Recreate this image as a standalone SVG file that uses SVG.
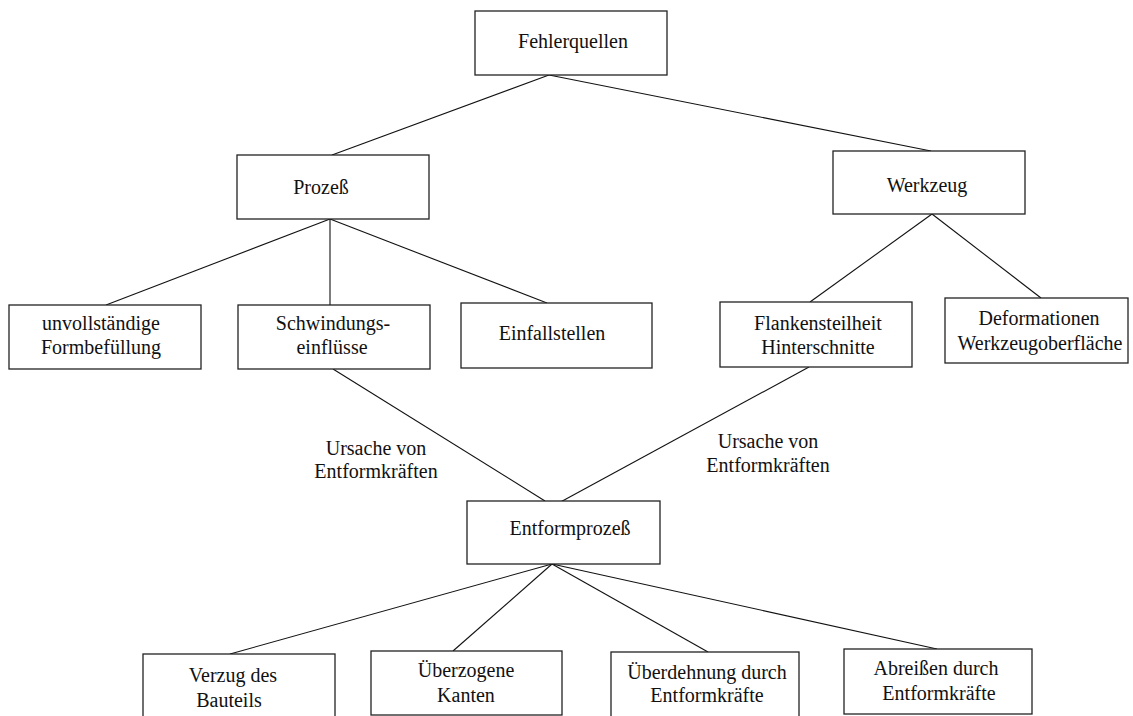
<svg xmlns="http://www.w3.org/2000/svg" width="1133" height="716" viewBox="0 0 1133 716">
<style>
.box{fill:#fff;stroke:#222;stroke-width:1.3}
.t{font-family:"Liberation Serif","Times New Roman",serif;font-size:20px;fill:#111;text-anchor:middle}
.c line{stroke:#111;stroke-width:1.1}
</style>
<rect width="1133" height="716" fill="#fff"/>
<g id="connectors" class="c">
<line x1="549" y1="75" x2="332" y2="155"/>
<line x1="549" y1="75" x2="931" y2="151"/>
<line x1="330" y1="219" x2="106" y2="305"/>
<line x1="330" y1="219" x2="330" y2="305"/>
<line x1="330" y1="219" x2="547" y2="303"/>
<line x1="932" y1="214" x2="810" y2="302"/>
<line x1="932" y1="214" x2="1041" y2="298"/>
<line x1="333" y1="369" x2="545" y2="501"/>
<line x1="809" y1="367" x2="555" y2="505"/>
<line x1="552" y1="564" x2="230" y2="654"/>
<line x1="552" y1="564" x2="453" y2="651"/>
<line x1="552" y1="564" x2="708" y2="652"/>
<line x1="552" y1="564" x2="937" y2="649"/>
</g>
<g id="n-fehlerquellen"><rect class="box" x="475" y="11" width="192" height="64"/><text class="t" x="573" y="48">Fehlerquellen</text></g>
<g id="n-prozess"><rect class="box" x="237" y="155" width="192" height="64"/><text class="t" x="321" y="194">Prozeß</text></g>
<g id="n-werkzeug"><rect class="box" x="833" y="151" width="192" height="63"/><text class="t" x="927" y="192">Werkzeug</text></g>
<g id="n-formbefuellung"><rect class="box" x="9" y="305" width="192" height="64"/><text class="t" x="101" y="330">unvollständige</text><text class="t" x="101" y="354">Formbefüllung</text></g>
<g id="n-schwindung"><rect class="box" x="238" y="305" width="192" height="64"/><text class="t" x="333" y="330">Schwindungs-</text><text class="t" x="332" y="354">einflüsse</text></g>
<g id="n-einfallstellen"><rect class="box" x="461" y="303" width="191" height="65"/><text class="t" x="552" y="340">Einfallstellen</text></g>
<g id="n-flanken"><rect class="box" x="720" y="302" width="192" height="65"/><text class="t" x="818" y="330">Flankensteilheit</text><text class="t" x="818" y="354">Hinterschnitte</text></g>
<g id="n-deformationen"><rect class="box" x="945" y="298" width="183" height="65"/><text class="t" x="1039" y="325">Deformationen</text><text class="t" x="1040" y="350">Werkzeugoberfläche</text></g>
<g id="l-ursache-links"><text class="t" x="376" y="455">Ursache von</text><text class="t" x="376" y="478">Entformkräften</text></g>
<g id="l-ursache-rechts"><text class="t" x="768" y="448">Ursache von</text><text class="t" x="768" y="472">Entformkräften</text></g>
<g id="n-entformprozess"><rect class="box" x="467" y="501" width="193" height="63"/><text class="t" x="570" y="535">Entformprozeß</text></g>
<g id="n-verzug"><rect class="box" x="143" y="654" width="192" height="70"/><text class="t" x="233" y="682">Verzug des</text><text class="t" x="229" y="707">Bauteils</text></g>
<g id="n-ueberzogen"><rect class="box" x="371" y="651" width="191" height="64"/><text class="t" x="466" y="677">Überzogene</text><text class="t" x="466" y="702">Kanten</text></g>
<g id="n-ueberdehnung"><rect class="box" x="611" y="652" width="188" height="70"/><text class="t" x="707" y="679">Überdehnung durch</text><text class="t" x="707" y="702">Entformkräfte</text></g>
<g id="n-abreissen"><rect class="box" x="844" y="649" width="188" height="65"/><text class="t" x="936" y="675">Abreißen durch</text><text class="t" x="939" y="700">Entformkräfte</text></g>
</svg>
